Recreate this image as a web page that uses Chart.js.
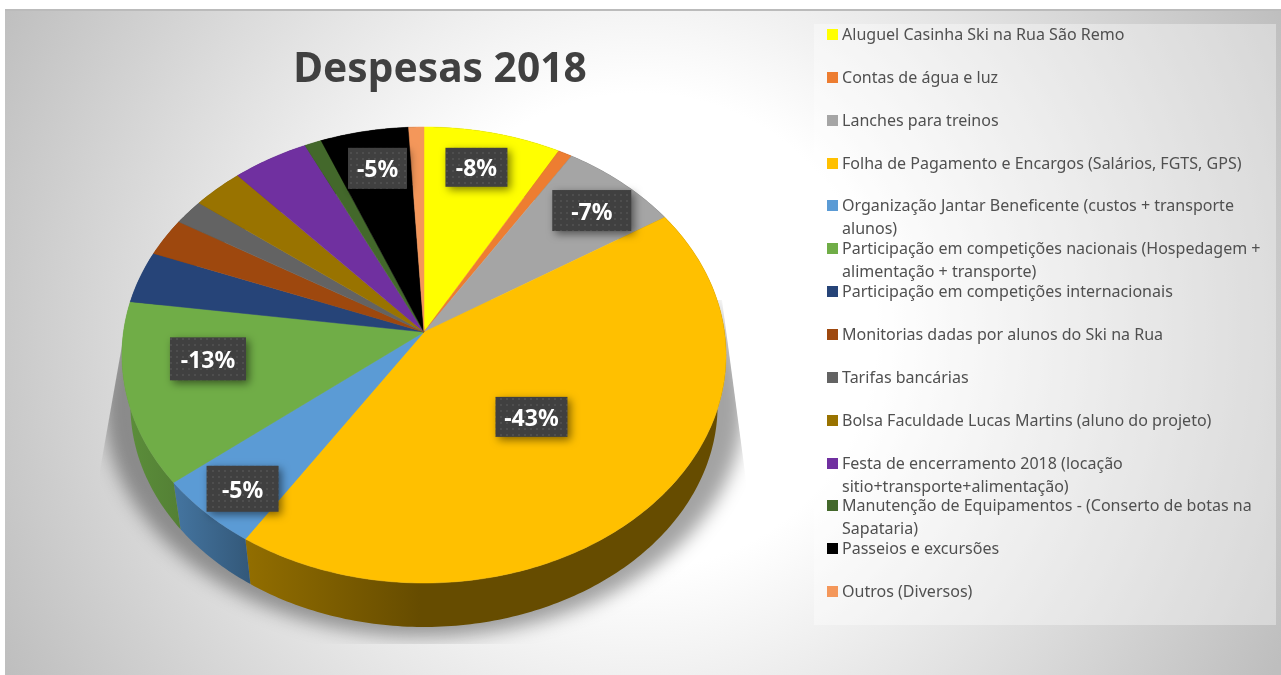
<!DOCTYPE html>
<html lang="pt">
<head>
<meta charset="utf-8">
<title>Despesas 2018</title>
<script src="https://cdn.jsdelivr.net/npm/chart.js@4"></script>
<style>
  html, body { margin: 0; padding: 0; background: #fff; overflow: hidden; }
  #frame {
    position: absolute; left: 5px; top: 9px; width: 1276px; height: 666px;
    background: radial-gradient(circle 720px at 635px 320px, #fff 33%, #bebebe 100%);
    border-top: 2px solid #bbb; box-sizing: border-box;
  }
  #grafico { position: absolute; left: 0; top: 0; }
  #legenda {
    position: absolute; left: 814px; top: 24px; width: 462px; height: 601px;
    background: rgba(255, 255, 255, 0.36);
    font: 16.05px "Noto Sans", sans-serif; color: #505050;
  }
  .item { position: absolute; left: 13px; width: 432px; line-height: 23px; height: 23px; }
  .item i { position: absolute; left: 0; top: 6px; width: 11px; height: 11px; }
  .item span { position: absolute; left: 15px; top: 0; width: 428px; }
</style>
</head>
<body>
<div id="frame"></div>
<canvas id="grafico" width="880" height="675"></canvas>
<div id="legenda"></div>
<script>
// Despesas 2018
const categorias = [
  'Aluguel Casinha Ski na Rua São Remo',
  'Contas de água e luz',
  'Lanches para treinos',
  'Folha de Pagamento e Encargos (Salários, FGTS, GPS)',
  'Organização Jantar Beneficente (custos + transporte alunos)',
  'Participação em competições nacionais (Hospedagem + alimentação + transporte)',
  'Participação em competições internacionais',
  'Monitorias dadas por alunos do Ski na Rua',
  'Tarifas bancárias',
  'Bolsa Faculdade Lucas Martins (aluno do projeto)',
  'Festa de encerramento 2018 (locação sitio+transporte+alimentação)',
  'Manutenção de Equipamentos - (Conserto de botas na Sapataria)',
  'Passeios e excursões',
  'Outros (Diversos)'
];
const valores = [8.1, 0.83, 7.06, 43.1, 5.1, 12.9, 3.7, 2.7, 1.8, 3.0, 4.5, 1.0, 5.2, 0.9];
const cores = ['#ffff00', '#ed7d31', '#a5a5a5', '#ffc000', '#5b9bd5', '#70ad47', '#264478',
               '#9e480e', '#636363', '#997300', '#7030a0', '#43682b', '#000000', '#f4975a'];

// perspectiva do disco: círculo unitário -> tela
const APEX_X = 424, APEX_Y = 332, RX = 300.5, RY = 225.7, PERSP = 0.1009;
const BASE_ESCALA = 0.972, BASE_Y = 383;

function topo(ang, r = 1) {
  const u = Math.cos(ang) * r, v = Math.sin(ang) * r, w = 1 - PERSP * v;
  return [APEX_X + RX * u / w, APEX_Y + RY * v / w];
}
function base(ang) {
  const [x, y] = topo(ang);
  return [APEX_X + (x - APEX_X) * BASE_ESCALA, BASE_Y + (y - APEX_Y) * BASE_ESCALA];
}
function passos(a0, a1) {
  const n = Math.max(2, Math.ceil((a1 - a0) / 0.015));
  const out = [];
  for (let i = 0; i <= n; i++) out.push(a0 + (a1 - a0) * i / n);
  return out;
}
function escurecer(hex, f) {
  const n = parseInt(hex.slice(1), 16);
  return `rgb(${(n >> 16 & 255) * f | 0},${(n >> 8 & 255) * f | 0},${(n & 255) * f | 0})`;
}

// sombra sob o disco
function desenhaSombra(ctx) {
  ctx.save();
  ctx.beginPath();
  ctx.moveTo(130, 300); ctx.lineTo(722, 300); ctx.lineTo(746, 480);
  ctx.lineTo(746, 644); ctx.lineTo(100, 644); ctx.lineTo(100, 470);
  ctx.closePath();
  ctx.clip();
  ctx.filter = 'blur(9px)';
  ctx.fillStyle = 'rgba(0,0,0,0.36)';
  ctx.beginPath();
  ctx.ellipse(424, 405, 320, 232, 0, 0, Math.PI * 2);
  ctx.fill();
  ctx.restore();
}

const plugin3d = {
  id: 'pizza3d',
  beforeDatasetDraw(chart) {
    const ctx = chart.ctx, arcos = chart.getDatasetMeta(0).data;
    desenhaSombra(ctx);
    const faixas = [[130, .82], [176, .75], [250, .57], [420, .40], [725, .40]];
    // lateral
    arcos.forEach((arc, i) => {
      const grad = ctx.createLinearGradient(130, 0, 725, 0);
      faixas.forEach(([x, f]) => grad.addColorStop((x - 130) / 595, escurecer(cores[i], f)));
      const angs = passos(arc.startAngle, arc.endAngle);
      ctx.beginPath();
      angs.forEach(a => ctx.lineTo(...topo(a)));
      angs.slice().reverse().forEach(a => ctx.lineTo(...base(a)));
      ctx.closePath();
      ctx.fillStyle = grad;
      ctx.fill();
    });
    // tampo
    arcos.forEach((arc, i) => {
      ctx.beginPath();
      ctx.moveTo(APEX_X, APEX_Y);
      passos(arc.startAngle, arc.endAngle).forEach(a => ctx.lineTo(...topo(a)));
      ctx.closePath();
      ctx.fillStyle = arc.options.backgroundColor;
      ctx.strokeStyle = arc.options.backgroundColor;
      ctx.lineWidth = 0.5;
      ctx.fill();
      ctx.stroke();
    });
    return false;
  }
};

// rótulos: fração do raio, desvio angular e tamanho da caixa de cada fatia rotulada
const rotulos = {
  0: { r: .81, da: -.02, w: 62, h: 39 },
  2: { r: .82, da: .02, w: 79, h: 41 },
  3: { r: .50, da: .02, w: 72, h: 40 },
  4: { r: .86, da: -.02, w: 72, h: 46 },
  5: { r: .72, da: .105, w: 76, h: 43 },
  12: { r: .80, da: .01, w: 59, h: 41 }
};
function tramaRotulo(ctx) {
  const c = document.createElement('canvas');
  c.width = c.height = 6;
  const t = c.getContext('2d');
  t.fillStyle = '#404040'; t.fillRect(0, 0, 6, 6);
  t.fillStyle = '#4e4e4e'; t.fillRect(2, 2, 2, 2);
  return ctx.createPattern(c, 'repeat');
}
const pluginRotulos = {
  id: 'rotulos',
  afterDatasetsDraw(chart) {
    const ctx = chart.ctx, arcos = chart.getDatasetMeta(0).data, trama = tramaRotulo(ctx);
    valores.forEach((v, i) => {
      const cfg = rotulos[i];
      if (!cfg) return;
      const a = (arcos[i].startAngle + arcos[i].endAngle) / 2 + cfg.da;
      const [x, y] = topo(a, cfg.r);
      ctx.save();
      ctx.shadowColor = 'rgba(0,0,0,0.5)';
      ctx.shadowBlur = 8;
      ctx.shadowOffsetX = 3;
      ctx.shadowOffsetY = 3;
      ctx.fillStyle = trama;
      ctx.fillRect(x - cfg.w / 2, y - cfg.h / 2, cfg.w, cfg.h);
      ctx.restore();
      ctx.fillStyle = '#fff';
      ctx.font = 'bold 23px "Noto Sans", sans-serif';
      ctx.textAlign = 'center';
      ctx.textBaseline = 'middle';
      ctx.fillText('-' + Math.round(v) + '%', x, y + 2.5);
    });
  }
};

new Chart(document.getElementById('grafico').getContext('2d'), {
  type: 'pie',
  data: {
    labels: categorias,
    datasets: [{ label: 'Despesas 2018', data: valores, backgroundColor: cores, borderWidth: 0 }]
  },
  options: {
    responsive: false,
    animation: false,
    plugins: {
      legend: { display: false },
      tooltip: { enabled: false },
      title: {
        display: true,
        text: 'Despesas 2018',
        color: '#404040',
        font: { family: '"Noto Sans", sans-serif', size: 40.7, weight: 'bold' },
        padding: { top: 46, bottom: 8 }
      }
    }
  },
  plugins: [plugin3d, pluginRotulos]
});

// legenda ao lado
const legenda = document.getElementById('legenda');
categorias.forEach((nome, i) => {
  const item = document.createElement('div');
  item.className = 'item';
  item.style.top = (-1 + i * 42.85) + 'px';
  const q = document.createElement('i');
  q.style.background = cores[i];
  const t = document.createElement('span');
  t.textContent = nome;
  item.append(q, t);
  legenda.appendChild(item);
});
</script>
</body>
</html>
